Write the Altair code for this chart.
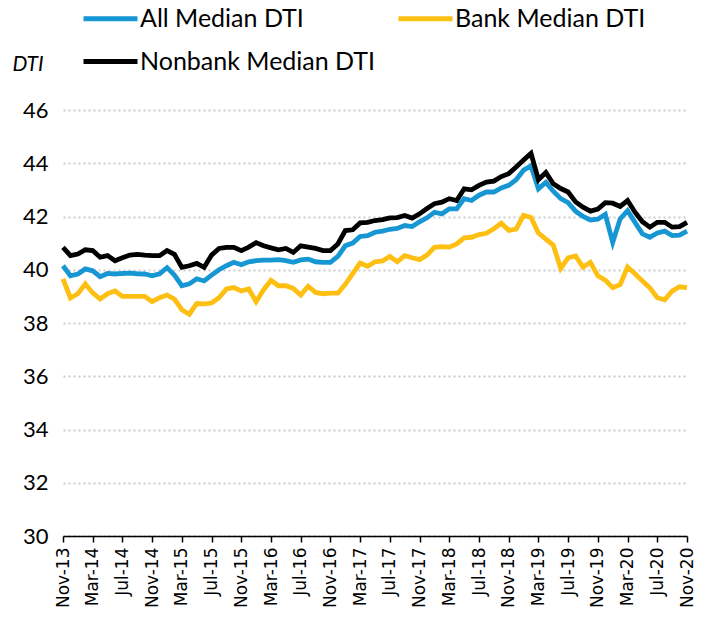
import altair as alt
import pandas as pd

months = []
names = ["Jan", "Feb", "Mar", "Apr", "May", "Jun", "Jul", "Aug", "Sep", "Oct", "Nov", "Dec"]
y, m = 2013, 10
for _ in range(85):
    months.append(f"{names[m]}-{str(y)[2:]}")
    m += 1
    if m == 12:
        m = 0
        y += 1

all_median = [
    40.15, 39.77, 39.84, 40.03, 39.96, 39.74, 39.86, 39.84, 39.86, 39.87,
    39.85, 39.84, 39.77, 39.85, 40.08, 39.80, 39.40, 39.47, 39.66, 39.58,
    39.80, 40.00, 40.15, 40.28, 40.19, 40.30, 40.34, 40.36, 40.36, 40.38,
    40.34, 40.28, 40.37, 40.40, 40.30, 40.28, 40.28, 40.50, 40.90, 41.00,
    41.25, 41.28, 41.41, 41.45, 41.52, 41.55, 41.66, 41.62, 41.80, 41.95,
    42.16, 42.10, 42.29, 42.29, 42.67, 42.60, 42.80, 42.92, 42.92, 43.07,
    43.17, 43.38, 43.74, 43.90, 43.04, 43.28, 42.95, 42.67, 42.52, 42.20,
    42.00, 41.87, 41.90, 42.08, 41.03, 41.91, 42.22, 41.78, 41.35, 41.22,
    41.38, 41.45, 41.28, 41.30, 41.45,
]
bank_median = [
    39.66, 38.94, 39.10, 39.47, 39.13, 38.90, 39.10, 39.20, 39.00, 39.00,
    39.00, 39.00, 38.80, 38.95, 39.05, 38.90, 38.50, 38.33, 38.73, 38.72,
    38.75, 38.95, 39.28, 39.33, 39.20, 39.28, 38.80, 39.25, 39.60, 39.40,
    39.40, 39.30, 39.05, 39.38, 39.15, 39.10, 39.12, 39.12, 39.45, 39.85,
    40.25, 40.13, 40.30, 40.33, 40.50, 40.30, 40.53, 40.45, 40.38, 40.55,
    40.84, 40.87, 40.85, 40.97, 41.20, 41.22, 41.32, 41.37, 41.54, 41.75,
    41.48, 41.53, 42.04, 41.96, 41.38, 41.15, 40.92, 40.05, 40.45, 40.52,
    40.10, 40.28, 39.77, 39.61, 39.33, 39.44, 40.10, 39.85, 39.58, 39.32,
    38.95, 38.87, 39.20, 39.36, 39.33,
]
nonbank_median = [
    40.84, 40.53, 40.59, 40.75, 40.72, 40.47, 40.53, 40.34, 40.45, 40.55,
    40.58, 40.55, 40.53, 40.53, 40.72, 40.58, 40.09, 40.15, 40.24, 40.09,
    40.55, 40.80, 40.84, 40.84, 40.72, 40.85, 41.02, 40.90, 40.82, 40.75,
    40.80, 40.65, 40.90, 40.85, 40.80, 40.72, 40.72, 40.97, 41.47, 41.50,
    41.76, 41.78, 41.85, 41.88, 41.95, 41.96, 42.04, 41.94, 42.10, 42.30,
    42.48, 42.54, 42.67, 42.60, 43.04, 43.00, 43.17, 43.29, 43.33, 43.50,
    43.61, 43.86, 44.12, 44.37, 43.38, 43.65, 43.23, 43.05, 42.92, 42.55,
    42.35, 42.20, 42.28, 42.52, 42.50, 42.38, 42.60, 42.16, 41.80, 41.60,
    41.78, 41.78, 41.60, 41.62, 41.78,
]

series_names = ["All Median DTI", "Bank Median DTI", "Nonbank Median DTI"]
series_colors = ["#1696D2", "#FDBF11", "#000000"]
y_ticks = [30, 32, 34, 36, 38, 40, 42, 44, 46]
x_ticks = months[::4]

rows = []
for name, vals in zip(series_names, [all_median, bank_median, nonbank_median]):
    for i, (mo, v) in enumerate(zip(months, vals)):
        rows.append({"month": mo, "idx": i, "series": name, "value": v})
df = pd.DataFrame(rows)

chart = alt.Chart(df).mark_line(strokeWidth=4.8, strokeJoin="miter").encode(
    x=alt.X("month:O", sort=months,
            scale=alt.Scale(type="point", padding=0),
            axis=alt.Axis(values=x_ticks, labelAngle=-90, title=None,
                          domainColor="#000000", domainWidth=1.5,
                          tickColor="#000000", tickSize=6, tickWidth=1.5,
                          labelFont="DejaVu Sans", labelFontSize=17,
                          labelColor="#000000", labelPadding=5,
                          grid=False)),
    y=alt.Y("value:Q", scale=alt.Scale(domain=[30, 46], nice=False, zero=False),
            axis=alt.Axis(values=y_ticks, title="DTI", titleAngle=0,
                          titleX=-51, titleY=-36, titleAlign="left",
                          titleFont="Lato", titleFontSize=21,
                          titleFontStyle="italic", titleFontWeight="normal",
                          titleColor="#000000",
                          labelFont="Lato", labelFontSize=22, labelColor="#000000",
                          labelPadding=15, domain=False, ticks=False,
                          grid=True, gridColor="#cccccc", gridDash=[2, 3],
                          gridWidth=2)),
    color=alt.Color("series:N", sort=series_names,
                    scale=alt.Scale(domain=series_names, range=series_colors),
                    legend=alt.Legend(orient="none", legendX=18, legendY=-121,
                                      columns=2, direction="horizontal",
                                      title=None, labelLimit=400,
                                      symbolType="M-1,0L1,0", symbolSize=2916,
                                      symbolStrokeWidth=5, labelFont="Lato",
                                      labelFontSize=25, labelColor="#000000",
                                      columnPadding=12, rowPadding=-10,
                                      labelOffset=0)),
    order="idx:Q",
).properties(
    width=624,
    height=426,
    padding={"left": 55, "top": 102, "right": 13, "bottom": 85},
    autosize=alt.AutoSizeParams(type="none"),
).configure_view(stroke=None)

chart.save("out.html", embed_options={"renderer": "svg", "actions": False})
